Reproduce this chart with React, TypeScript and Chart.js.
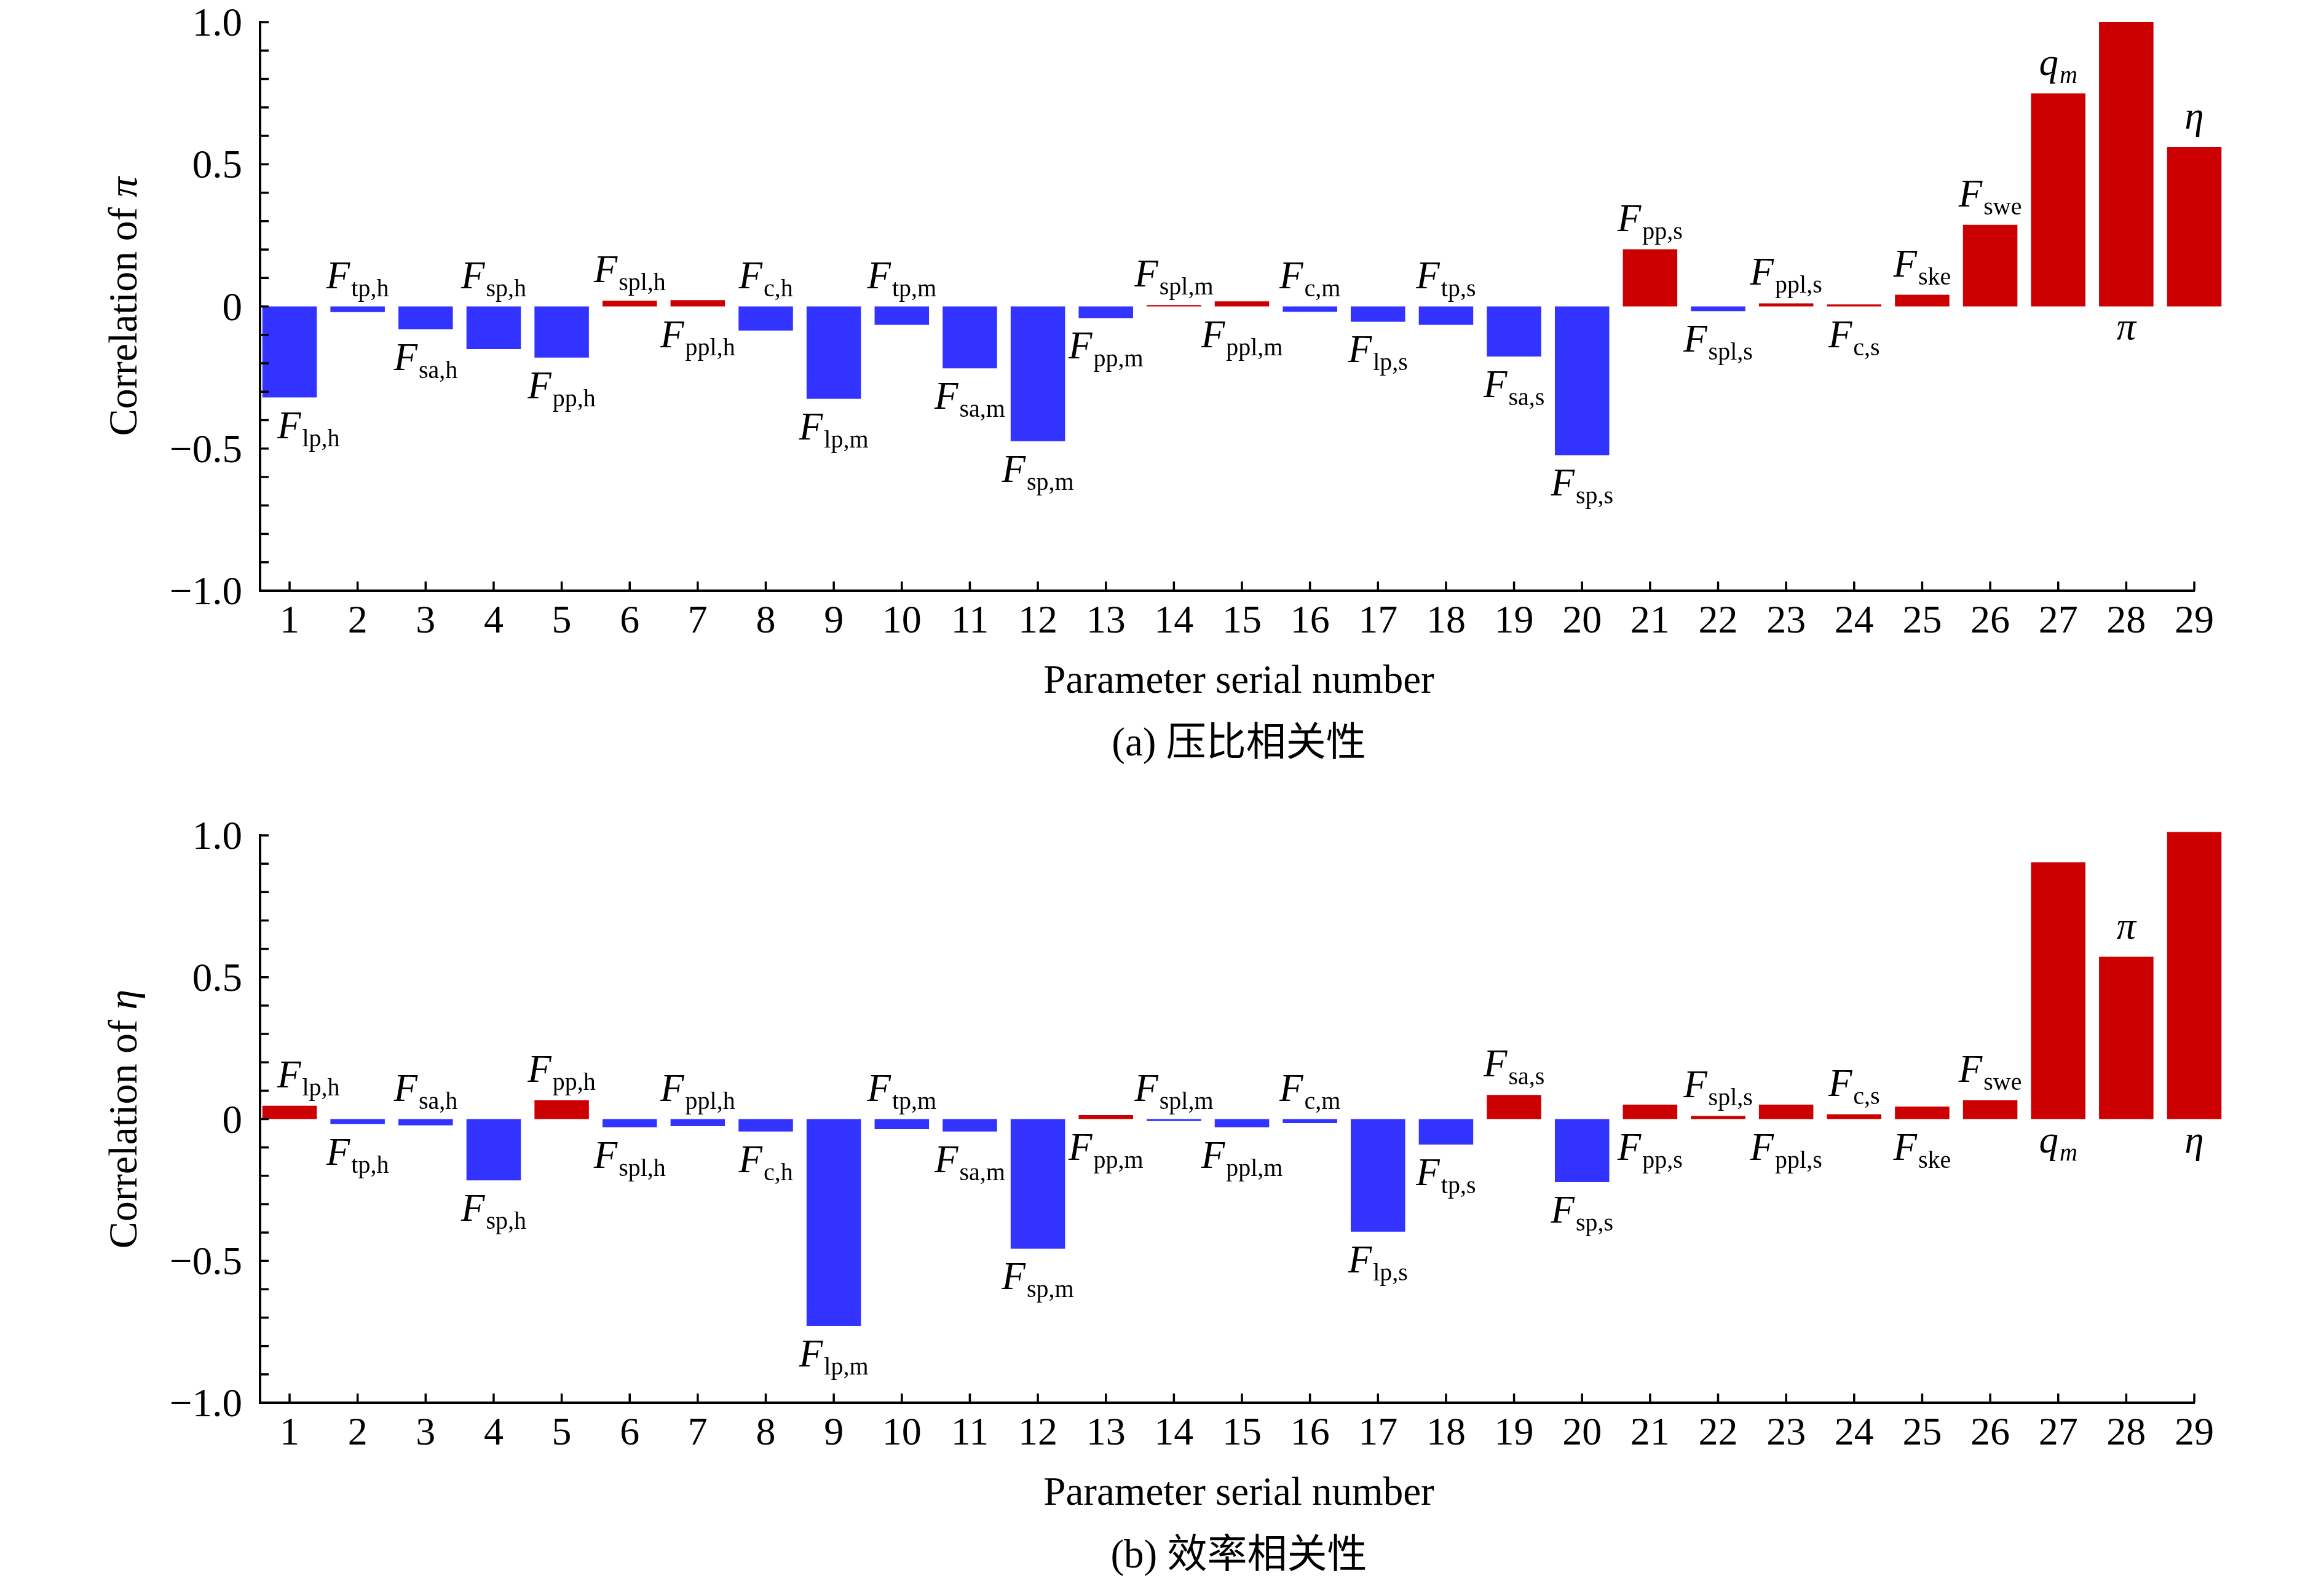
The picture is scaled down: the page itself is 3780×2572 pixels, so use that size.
import React, { useEffect, useRef } from 'react';
import { Chart, registerables } from 'chart.js';

Chart.register(...registerables);

// serial number of each parameter (x positions)
const serialNumbers = [
  1, 2, 3, 4, 5, 6, 7, 8, 9, 10, 11, 12, 13, 14, 15,
  16, 17, 18, 19, 20, 21, 22, 23, 24, 25, 26, 27, 28, 29,
];

// parameter names, "main_sub"
const paramNames = [
  'F_lp,h', 'F_tp,h', 'F_sa,h', 'F_sp,h', 'F_pp,h', 'F_spl,h', 'F_ppl,h', 'F_c,h',
  'F_lp,m', 'F_tp,m', 'F_sa,m', 'F_sp,m', 'F_pp,m', 'F_spl,m', 'F_ppl,m', 'F_c,m',
  'F_lp,s', 'F_tp,s', 'F_sa,s', 'F_sp,s', 'F_pp,s', 'F_spl,s', 'F_ppl,s', 'F_c,s',
  'F_ske', 'F_swe', 'q_m', 'π', 'η',
];

// correlation with pressure ratio
const piCorrelation = [
  -0.32, -0.02, -0.08, -0.15, -0.18, 0.02, 0.022, -0.085,
  -0.325, -0.065, -0.218, -0.474, -0.041, 0.005, 0.018, -0.019,
  -0.054, -0.065, -0.176, -0.523, 0.201, -0.017, 0.011, 0.007,
  0.041, 0.287, 0.749, 1.0, 0.561,
];

// correlation with efficiency
const etaCorrelation = [
  0.047, -0.018, -0.022, -0.216, 0.066, -0.029, -0.025, -0.044,
  -0.729, -0.036, -0.044, -0.457, 0.014, -0.007, -0.029, -0.014,
  -0.397, -0.09, 0.085, -0.222, 0.051, 0.011, 0.051, 0.017,
  0.044, 0.066, 0.905, 0.572, 1.012,
];

// where the name sits: u = above the bar, d = below
const piLabelSides = [
  'd', 'u', 'd', 'u', 'd', 'u', 'd', 'u', 'd', 'u', 'd', 'd', 'd', 'u', 'd',
  'u', 'd', 'u', 'd', 'd', 'u', 'd', 'u', 'd', 'u', 'u', 'u', 'd', 'u',
];
const etaLabelSides = [
  'u', 'd', 'u', 'd', 'u', 'd', 'u', 'd', 'd', 'u', 'd', 'd', 'd', 'u', 'd',
  'u', 'd', 'd', 'u', 'd', 'd', 'u', 'd', 'u', 'd', 'u', 'd', 'u', 'd',
];

const BLUE = '#3333ff';
const RED = '#cc0000';
const SERIF = '"Liberation Serif", "Times New Roman", serif';
const CJK = '"Liberation Serif", "Noto Sans CJK SC", serif';

const W = 3780;
const H = 1286;

const fmtTick = (v: number) => {
  if (Math.abs(v) < 1e-9) return '0';
  return v.toFixed(1).replace('-', '\u2212');
};

const decorPlugin = {
  id: 'decor',
  afterDraw(chart: any, _args: any, opts: any) {
    const ctx: CanvasRenderingContext2D = chart.ctx;
    const area = chart.chartArea;
    const xs = chart.scales.x;
    const ys = chart.scales.y;
    ctx.save();
    ctx.fillStyle = '#000';
    ctx.strokeStyle = '#000';
    ctx.lineWidth = 3.5;

    // y ticks pointing inward + major labels
    ctx.font = `65px ${SERIF}`;
    ctx.textAlign = 'right';
    ctx.textBaseline = 'alphabetic';
    ys.ticks.forEach((t: any) => {
      const py = ys.getPixelForValue(t.value);
      ctx.beginPath();
      ctx.moveTo(area.left, py);
      ctx.lineTo(area.left + 14, py);
      ctx.stroke();
      if (Math.abs(t.value * 2 - Math.round(t.value * 2)) < 1e-6) {
        ctx.fillText(fmtTick(t.value), area.left - 29, py + 22);
      }
    });

    // x ticks pointing inward + labels
    ctx.font = `64px ${SERIF}`;
    ctx.textAlign = 'center';
    xs.ticks.forEach((t: any) => {
      const px = xs.getPixelForValue(t.value);
      ctx.beginPath();
      ctx.moveTo(px, area.bottom);
      ctx.lineTo(px, area.bottom - 15);
      ctx.stroke();
      ctx.fillText(String(t.value), px, area.bottom + 68);
    });

    // parameter names at the bars
    const meta = chart.getDatasetMeta(0);
    meta.data.forEach((el: any, i: number) => {
      const [main, sub] = opts.names[i].split('_');
      const mainFont = `italic 63px ${SERIF}`;
      const subFont = `${main === 'F' ? '' : 'italic '}40px ${SERIF}`;
      ctx.font = mainFont;
      const mm = ctx.measureText(main);
      const wM = mm.width;
      let wS = 0;
      if (sub) {
        ctx.font = subFont;
        wS = ctx.measureText(sub).width;
      }
      const total = wM + (sub ? 2 + wS : 0);
      let left = el.x - total / 2;
      if (left < area.left + 28) left = area.left + 28;
      const topY = Math.min(el.y, el.base);
      const botY = Math.max(el.y, el.base);
      const baseline = opts.sides[i] === 'u'
        ? topY - 30
        : botY + 24 + mm.actualBoundingBoxAscent;
      ctx.textAlign = 'left';
      ctx.font = mainFont;
      ctx.fillText(main, left, baseline);
      if (sub) {
        ctx.font = subFont;
        ctx.fillText(sub, left + wM + 2, baseline + 13);
      }
    });

    // y axis title, rotated
    ctx.save();
    ctx.translate(222, (area.top + area.bottom) / 2);
    ctx.rotate(-Math.PI / 2);
    const word = 'Correlation of ';
    ctx.font = `66px ${SERIF}`;
    const wWord = ctx.measureText(word).width;
    ctx.font = `italic 66px ${SERIF}`;
    const wSym = ctx.measureText(opts.symbol).width;
    const start = -(wWord + wSym) / 2;
    ctx.textAlign = 'left';
    ctx.font = `66px ${SERIF}`;
    ctx.fillText(word, start, 0);
    ctx.font = `italic 66px ${SERIF}`;
    ctx.fillText(opts.symbol, start + wWord, 0);
    ctx.restore();

    // x axis title and caption
    ctx.textAlign = 'center';
    ctx.textBaseline = 'alphabetic';
    ctx.font = `65px ${SERIF}`;
    ctx.fillText('Parameter serial number', 2015, area.bottom + 166);
    ctx.font = `65px ${CJK}`;
    ctx.fillText(opts.caption, 2015, area.bottom + 268);

    ctx.restore();
  },
};

interface PanelProps {
  values: number[];
  sides: string[];
  symbol: string;
  caption: string;
  areaTop: number;
  areaBottom: number;
}

const CorrelationPanel: React.FC<PanelProps> = (props) => {
  const canvasRef = useRef<HTMLCanvasElement>(null);

  useEffect(() => {
    const config: any = {
      type: 'bar',
      data: {
        datasets: [{
          data: serialNumbers.map((x, i) => ({ x, y: props.values[i] })),
          backgroundColor: props.values.map(v => (v >= 0 ? RED : BLUE)),
          borderWidth: 0,
          categoryPercentage: 0.8,
          barPercentage: 1,
          clip: false,
        }],
      },
      options: {
        animation: false,
        responsive: false,
        devicePixelRatio: 1,
        layout: { padding: { left: 0, right: W - 3569, top: props.areaTop, bottom: 0 } },
        plugins: {
          legend: { display: false },
          tooltip: { enabled: false },
          decor: { names: paramNames, sides: props.sides, symbol: props.symbol, caption: props.caption },
        },
        scales: {
          x: {
            type: 'linear',
            min: 0.566,
            max: 29,
            offset: false,
            grid: { display: false },
            border: { display: true, color: '#000', width: 4 },
            ticks: { display: false },
            afterBuildTicks: (scale: any) => {
              scale.ticks = serialNumbers.map(v => ({ value: v }));
            },
            afterFit: (scale: any) => {
              scale.height = H - props.areaBottom;
              scale.paddingLeft = 0;
              scale.paddingRight = 0;
            },
          },
          y: {
            type: 'linear',
            min: -1,
            max: 1,
            grid: { display: false },
            border: { display: true, color: '#000', width: 4 },
            ticks: { display: false, stepSize: 0.1 },
            afterFit: (scale: any) => {
              scale.width = 423;
              scale.paddingTop = 0;
              scale.paddingBottom = 0;
            },
          },
        },
      },
      plugins: [decorPlugin],
    };

    const chart = new Chart(canvasRef.current as HTMLCanvasElement, config);
    return () => {
      chart.destroy();
    };
  }, []);

  return (
    <canvas
      ref={canvasRef}
      width={W}
      height={H}
      style={{ display: 'block', width: W, height: H }}
    />
  );
};

const App: React.FC = () => {
  return (
    <div style={{ position: 'absolute', left: 0, top: 0, width: W, height: 2 * H, background: '#fff' }}>
      <CorrelationPanel
        values={piCorrelation}
        sides={piLabelSides}
        symbol="π"
        caption="(a) 压比相关性"
        areaTop={36}
        areaBottom={961}
      />
      <CorrelationPanel
        values={etaCorrelation}
        sides={etaLabelSides}
        symbol="η"
        caption="(b) 效率相关性"
        areaTop={73}
        areaBottom={996}
      />
    </div>
  );
};

export default App;
